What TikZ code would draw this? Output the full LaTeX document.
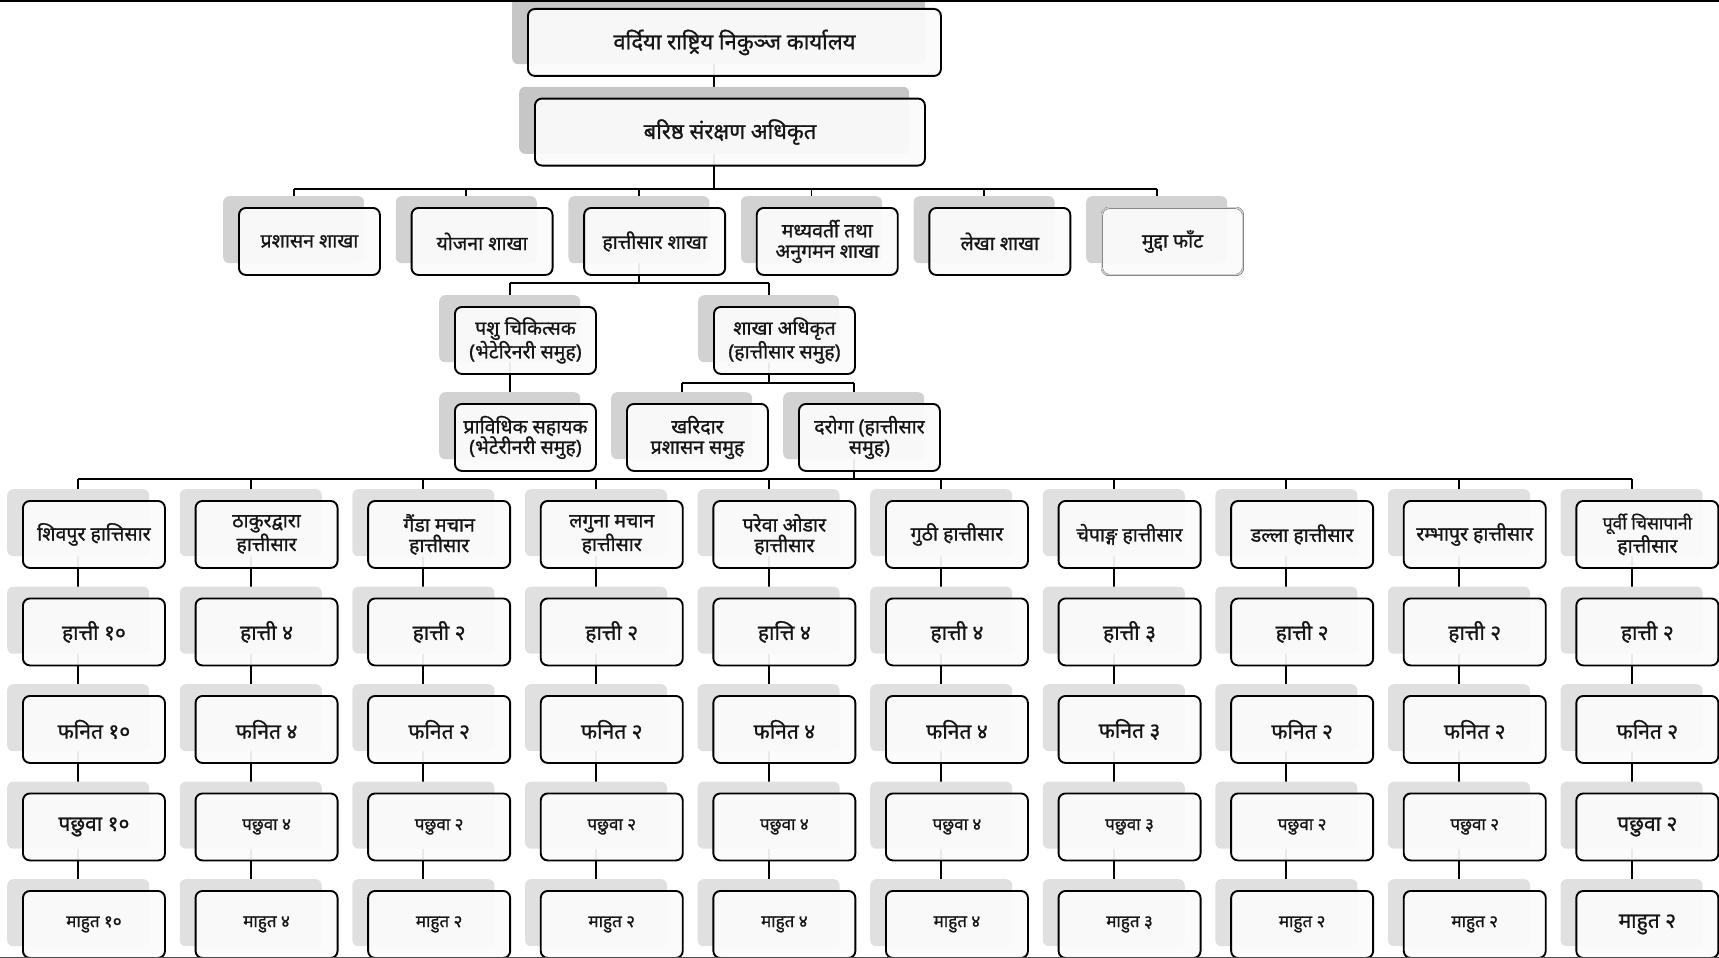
\documentclass[tikz,border=0pt]{standalone}
\usepackage{fontspec}
\newfontfamily\deva[Script=Devanagari, FakeBold=1.0]{Noto Sans}
\usetikzlibrary{calc}
\pgfdeclarelayer{bg}
\pgfsetlayers{bg,main}
\definecolor{shA}{HTML}{C6C6C6}
\definecolor{shB}{HTML}{D2D2D2}
\definecolor{shC}{HTML}{E0E0E0}
\definecolor{boxfill}{HTML}{FBFBFB}
\definecolor{txt}{HTML}{151515}
\definecolor{faint}{HTML}{D0D0D0}
\tikzset{
  shd/.style={draw=none, rounded corners=6pt, anchor=north west, inner sep=0pt},
  bx/.style={draw=black, line width=1.9pt, rounded corners=7pt, fill=boxfill, fill opacity=0.93,
    text opacity=1, text=txt, anchor=north west, align=center, inner sep=0pt,
    font=\deva\fontsize{19.5}{20.5}\selectfont},
  conn/.style={line width=1.9pt, black},
}
\newcommand\fbig{\fontsize{22}{26}\selectfont}
\newcommand\fmid{\fontsize{19.5}{19.5}\selectfont}
\newcommand\fnum{\fontsize{21}{24}\selectfont}
\newcommand\fsml{\fontsize{17}{20}\selectfont}
\newcommand\fsmb{\fontsize{17.5}{19}\selectfont}
% name, x, y, w, h, shadow colour, text
\newcommand\ob[7]{%
  \node[shd, fill=#6, minimum width=#4pt, minimum height=#5pt] (s#1) at ({#2-15},{#3-11}) {};
  \node[bx, minimum width=#4pt, minimum height=#5pt] (#1) at (#2,#3) {#7};
}
\begin{document}
\begin{tikzpicture}[x=1pt,y=-1pt]
\useasboundingbox (0,0) rectangle (1719,958);
% level 1, 2
\ob{t1}{527}{8}{413}{67}{shA}{\fbig वर्दिया राष्ट्रिय निकुञ्ज कार्यालय}
\ob{t2}{534}{97.6}{390}{67}{shA}{\fbig बरिष्ठ संरक्षण अधिकृत}
% level 3
\ob{r3a}{238}{207}{141}{67}{shB}{प्रशासन शाखा}
\ob{r3b}{410.6}{207}{141}{67}{shB}{योजना शाखा}
\ob{r3c}{583.2}{207}{141}{67}{shB}{हात्तीसार शाखा}
\ob{r3d}{755.8}{207}{141}{67}{shB}{मध्यवर्ती तथा\\अनुगमन शाखा}
\ob{r3e}{928.4}{207}{141}{67}{shB}{लेखा शाखा}
\ob{r3f}{1101}{207}{141}{67}{shB}{मुद्दा फाँट}
\node[draw=faint, line width=1.7pt, rounded corners=7pt, anchor=north west, minimum width=141pt, minimum height=67pt] (r3fb) at (1101,207) {};
% level 4, 5
\ob{r4a}{454}{306}{141}{67}{shB}{पशु चिकित्सक\\(भेटेरिनरी समुह)}
\ob{r4b}{713}{306}{141}{67}{shB}{शाखा अधिकृत\\(हात्तीसार समुह)}
\ob{r5a}{454}{403}{141}{67}{shB}{प्राविधिक सहायक\\(भेटेरीनरी समुह)}
\ob{r5b}{626}{403}{141}{67}{shB}{खरिदार\\प्रशासन समुह}
\ob{r5c}{798}{403}{141}{67}{shB}{दरोगा (हात्तीसार\\समुह)}
% hattisar columns
\ob{r6a}{22}{500}{142}{67}{shC}{\fmid शिवपुर हात्तिसार}
\ob{r6b}{194.6}{500}{142}{67}{shC}{\fmid ठाकुरद्वारा\\हात्तीसार}
\ob{r6c}{367.2}{500}{142}{67}{shC}{\fmid गैंडा मचान\\हात्तीसार}
\ob{r6d}{539.8}{500}{142}{67}{shC}{\fmid लगुना मचान\\हात्तीसार}
\ob{r6e}{712.4}{500}{142}{67}{shC}{\fmid परेवा ओडार\\हात्तीसार}
\ob{r6f}{885}{500}{142}{67}{shC}{\fmid गुठी हात्तीसार}
\ob{r6g}{1057.6}{500}{142}{67}{shC}{\fmid चेपाङ्ग हात्तीसार}
\ob{r6h}{1230.2}{500}{142}{67}{shC}{\fmid डल्ला हात्तीसार}
\ob{r6i}{1402.8}{500}{142}{67}{shC}{\fmid रम्भापुर हात्तीसार}
\ob{r6j}{1575.4}{500}{142}{67}{shC}{\fsmb पूर्वी चिसापानी\\हात्तीसार}
%
\ob{r7a}{22}{597.5}{142}{67}{shC}{\fnum हात्ती १०}
\ob{r7b}{194.6}{597.5}{142}{67}{shC}{\fnum हात्ती ४}
\ob{r7c}{367.2}{597.5}{142}{67}{shC}{\fnum हात्ती २}
\ob{r7d}{539.8}{597.5}{142}{67}{shC}{\fnum हात्ती २}
\ob{r7e}{712.4}{597.5}{142}{67}{shC}{\fnum हात्ति ४}
\ob{r7f}{885}{597.5}{142}{67}{shC}{\fnum हात्ती ४}
\ob{r7g}{1057.6}{597.5}{142}{67}{shC}{\fnum हात्ती ३}
\ob{r7h}{1230.2}{597.5}{142}{67}{shC}{\fnum हात्ती २}
\ob{r7i}{1402.8}{597.5}{142}{67}{shC}{\fnum हात्ती २}
\ob{r7j}{1575.4}{597.5}{142}{67}{shC}{\fnum हात्ती २}
%
\ob{r8a}{22}{695}{142}{67}{shC}{\fnum फनित १०}
\ob{r8b}{194.6}{695}{142}{67}{shC}{\fnum फनित ४}
\ob{r8c}{367.2}{695}{142}{67}{shC}{\fnum फनित २}
\ob{r8d}{539.8}{695}{142}{67}{shC}{\fnum फनित २}
\ob{r8e}{712.4}{695}{142}{67}{shC}{\fnum फनित ४}
\ob{r8f}{885}{695}{142}{67}{shC}{\fnum फनित ४}
\ob{r8g}{1057.6}{695}{142}{67}{shC}{\fnum फनित ३}
\ob{r8h}{1230.2}{695}{142}{67}{shC}{\fnum फनित २}
\ob{r8i}{1402.8}{695}{142}{67}{shC}{\fnum फनित २}
\ob{r8j}{1575.4}{695}{142}{67}{shC}{\fnum फनित २}
%
\ob{r9a}{22}{792.5}{142}{67}{shC}{\fnum पछुवा १०}
\ob{r9b}{194.6}{792.5}{142}{67}{shC}{\fsml पछुवा ४}
\ob{r9c}{367.2}{792.5}{142}{67}{shC}{\fsml पछुवा २}
\ob{r9d}{539.8}{792.5}{142}{67}{shC}{\fsml पछुवा २}
\ob{r9e}{712.4}{792.5}{142}{67}{shC}{\fsml पछुवा ४}
\ob{r9f}{885}{792.5}{142}{67}{shC}{\fsml पछुवा ४}
\ob{r9g}{1057.6}{792.5}{142}{67}{shC}{\fsml पछुवा ३}
\ob{r9h}{1230.2}{792.5}{142}{67}{shC}{\fsml पछुवा २}
\ob{r9i}{1402.8}{792.5}{142}{67}{shC}{\fsml पछुवा २}
\ob{r9j}{1575.4}{792.5}{142}{67}{shC}{\fnum पछुवा २}
%
\ob{r10a}{22}{890}{142}{67}{shC}{\fsml माहुत १०}
\ob{r10b}{194.6}{890}{142}{67}{shC}{\fsml माहुत ४}
\ob{r10c}{367.2}{890}{142}{67}{shC}{\fsml माहुत २}
\ob{r10d}{539.8}{890}{142}{67}{shC}{\fsml माहुत २}
\ob{r10e}{712.4}{890}{142}{67}{shC}{\fsml माहुत ४}
\ob{r10f}{885}{890}{142}{67}{shC}{\fsml माहुत ४}
\ob{r10g}{1057.6}{890}{142}{67}{shC}{\fsml माहुत ३}
\ob{r10h}{1230.2}{890}{142}{67}{shC}{\fsml माहुत २}
\ob{r10i}{1402.8}{890}{142}{67}{shC}{\fsml माहुत २}
\ob{r10j}{1575.4}{890}{142}{67}{shC}{\fnum माहुत २}
% connectors
\coordinate (busA) at (0,188.6);
\coordinate (busB) at (0,283);
\coordinate (busC) at (0,382.6);
\coordinate (busD) at (0,479);
\begin{pgfonlayer}{bg}
\draw[conn] (st2.north |- st1.south) -- (st2.north);
\draw[conn] (st2.south) -- (st2.south |- busA);
\draw[conn] (sr3a.north |- busA) -- (sr3f.north |- busA);
\foreach \cc in {a,b,c,d,e,f} \draw[conn] (sr3\cc.north |- busA) -- (sr3\cc.north);
\draw[conn] (sr3c.south) -- (sr3c.south |- busB);
\draw[conn] (sr4a.north |- busB) -- (sr4b.north |- busB);
\draw[conn] (sr4a.north |- busB) -- (sr4a.north);
\draw[conn] (sr4b.north |- busB) -- (sr4b.north);
\draw[conn] (sr4a.south) -- (sr5a.north);
\draw[conn] (sr4b.south) -- (sr4b.south |- busC);
\draw[conn] (sr5b.north |- busC) -- (sr5c.north |- busC);
\draw[conn] (sr5b.north |- busC) -- (sr5b.north);
\draw[conn] (sr5c.north |- busC) -- (sr5c.north);
\draw[conn] (sr5c.south) -- (sr5c.south |- busD);
\draw[conn] (sr6a.north |- busD) -- (sr6j.north |- busD);
\foreach \cc in {a,b,c,d,e,f,g,h,i,j} {
  \draw[conn] (sr6\cc.north |- busD) -- (sr6\cc.north);
  \draw[conn] (sr6\cc.south) -- (sr7\cc.north);
  \draw[conn] (sr7\cc.south) -- (sr8\cc.north);
  \draw[conn] (sr8\cc.south) -- (sr9\cc.north);
  \draw[conn] (sr9\cc.south) -- (sr10\cc.north);
}
\end{pgfonlayer}
\draw[black, line width=1.6pt] (0,0.8) -- (1719,0.8);
\draw[black!70, line width=1.2pt] (0,957.4) -- (1719,957.4);
\end{tikzpicture}
\end{document}
